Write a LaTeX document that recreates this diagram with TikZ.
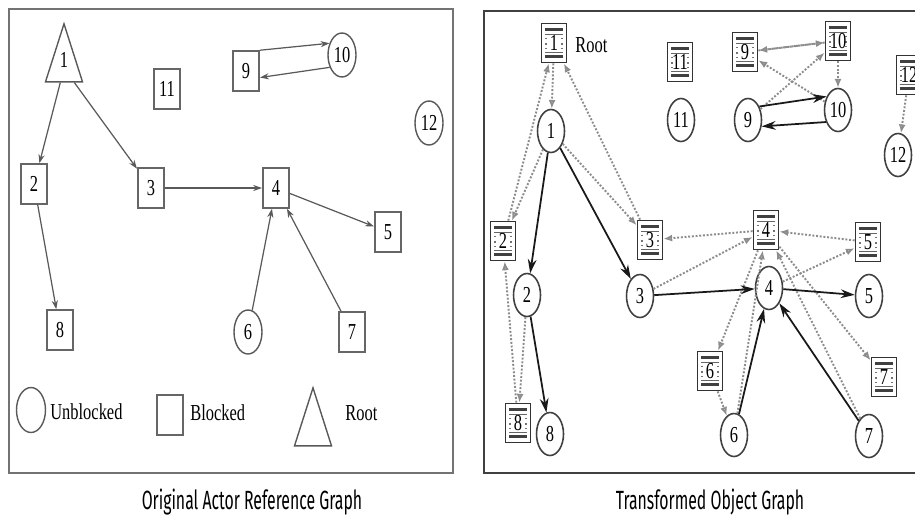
\documentclass[tikz,border=0pt]{standalone}
\usepackage{fontspec}
\setmainfont[FakeStretch=0.72]{Liberation Serif}
\newfontfamily\capfont{Fira Sans}
\usetikzlibrary{shapes.geometric,arrows.meta}

\tikzset{
  actbox/.style={draw=black!60, line width=0.9pt, minimum width=0.53cm, minimum height=0.8cm, inner sep=0pt, font=\fontsize{13}{15}\selectfont},
  actcir/.style={draw=black!65, ellipse, line width=0.8pt, minimum width=0.56cm, minimum height=0.88cm, inner sep=0pt, font=\fontsize{13}{15}\selectfont},
  acttri/.style={draw=black!65, line width=0.8pt, isosceles triangle, isosceles triangle stretches, shape border rotate=90, minimum width=0.74cm, minimum height=1.16cm, inner sep=0pt},
  objbox/.style={draw=black!80, line width=1pt, minimum width=0.5cm, minimum height=0.78cm, inner sep=0pt, fill=white, font=\fontsize{13}{15}\selectfont,
    path picture={
      \draw[line width=1.5pt, black!75] ([xshift=2pt,yshift=-3.5pt]path picture bounding box.north west) -- ([xshift=-2pt,yshift=-3.5pt]path picture bounding box.north east);
      \draw[line width=0.4pt, black!60] ([xshift=2pt,yshift=-6pt]path picture bounding box.north west) -- ([xshift=-2pt,yshift=-6pt]path picture bounding box.north east);
      \draw[line width=1.5pt, black!75] ([xshift=2pt,yshift=3.5pt]path picture bounding box.south west) -- ([xshift=-2pt,yshift=3.5pt]path picture bounding box.south east);
      \draw[line width=0.4pt, black!60] ([xshift=2pt,yshift=6pt]path picture bounding box.south west) -- ([xshift=-2pt,yshift=6pt]path picture bounding box.south east);
      \draw[line width=1pt, black!55, dotted] ([xshift=2.6pt,yshift=-8pt]path picture bounding box.north west) -- ([xshift=2.6pt,yshift=8pt]path picture bounding box.south west);
      \draw[line width=1pt, black!55, dotted] ([xshift=-2.6pt,yshift=-8pt]path picture bounding box.north east) -- ([xshift=-2.6pt,yshift=8pt]path picture bounding box.south east);
    }},
  objcir/.style={draw=black!75, ellipse, line width=0.9pt, minimum width=0.54cm, minimum height=0.86cm, inner sep=0pt, font=\fontsize{13}{15}\selectfont},
  frame/.style={line width=1.6pt},
  link/.style={draw=black!65, line width=0.7pt, -{Stealth[length=5pt,width=3.5pt]}},
  solidlink/.style={draw=black!90, line width=1pt, -{Stealth[length=8pt,width=5pt]}},
  reflink/.style={draw=black!45, densely dotted, line width=1.1pt, -{Latex[open,length=5pt,width=4pt]}},
}

\begin{document}
\begin{tikzpicture}[x=0.02cm, y=-0.02cm]
  \useasboundingbox (0,0) rectangle (915,531);

  % Actor graph
  \draw[frame, black!55] (9,9) rectangle (453,473);
  \node[acttri, anchor=apex] (act1) at (64,22) {};
  \node[font=\fontsize{13}{15}\selectfont] (act1lbl) at (64,60) {1};
  \node[actbox] (act2) at (34,184) {2};
  \node[actbox] (act3) at (151,188) {3};
  \node[actbox] (act4) at (276,188) {4};
  \node[actbox] (act5) at (388,232) {5};
  \node[actcir] (act6) at (248,332) {6};
  \node[actbox] (act7) at (352,332) {7};
  \node[actbox] (act8) at (60,330) {8};
  \node[actbox] (act9) at (246,71) {9};
  \node[actcir] (act10) at (342,55) {10};
  \node[actbox] (act11) at (167,89) {11};
  \node[actcir] (act12) at (429,123) {12};

  \draw[link] (act1) -- (act2);
  \draw[link] (act1) -- (act3);
  \foreach \a/\b in {3/4,4/5,2/8,6/4,7/4}
    \draw[link] (act\a) -- (act\b);
  \draw[link] (act9.north east) -- (act10.137);
  \draw[link] (act10.225) -- (act9.-25);

  % Legend
  \node[actcir, minimum width=0.58cm, minimum height=0.9cm] (legcir) at (31,410) {};
  \node[anchor=west, inner sep=0pt, font=\fontsize{13}{15}\selectfont] (legunb) at (50,412) {Unblocked};
  \node[actbox] (legbox) at (170,415) {};
  \node[anchor=west, inner sep=0pt, font=\fontsize{13}{15}\selectfont] (legblk) at (190,413) {Blocked};
  \node[acttri, anchor=apex] (legtri) at (313,386) {};
  \node[anchor=west, inner sep=0pt, font=\fontsize{13}{15}\selectfont] (legroot) at (345,413) {Root};

  % Object graph
  \draw[frame, black!75] (484,11) rectangle (925,473);
  \foreach \n/\p in {1/{554,43},2/{503,241},3/{650,240},4/{766,230},5/{868,242},6/{710,371},
                     7/{884,377},8/{518,423},9/{745,52},10/{838,41},11/{680,62},12/{909,75}}
    \node[objbox] (obj\n) at (\p) {\n};
  \foreach \n/\p in {1/{551,131},2/{527,295},3/{640,296},4/{769,288},5/{869,296},6/{734,435},
                     7/{869,436},8/{550,434},9/{748,120},10/{838,110},11/{681,120},12/{898,155}}
    \node[objcir] (cir\n) at (\p) {\n};
  \node[anchor=west, inner sep=0pt, font=\fontsize{13}{15}\selectfont] (objroot) at (575,45) {Root};

  \foreach \a/\b in {1/2,1/3,3/4,4/5,2/8,6/4,7/4,9/10,10/9} {
    \draw[reflink] (cir\a) -- (obj\b);
    \draw[reflink] (obj\b) -- (obj\a);
  }
  \foreach \n in {1,6,10,12}
    \draw[reflink] (obj\n) -- (cir\n);

  \foreach \a/\b in {1/2,1/3,3/4,4/5,2/8,6/4,7/4}
    \draw[solidlink] (cir\a) -- (cir\b);
  \draw[solidlink] (cir9.50) -- (cir10.130);
  \draw[solidlink] (cir10.225) -- (cir9.-25);

  % Captions
  \node[font=\fontsize{15}{17}\selectfont] (capact) at (252,502) {\scalebox{0.6}[1]{\capfont Original Actor Reference Graph}};
  \node[font=\fontsize{15}{17}\selectfont] (capobj) at (710,502) {\scalebox{0.6}[1]{\capfont Transformed Object Graph}};
\end{tikzpicture}
\end{document}
